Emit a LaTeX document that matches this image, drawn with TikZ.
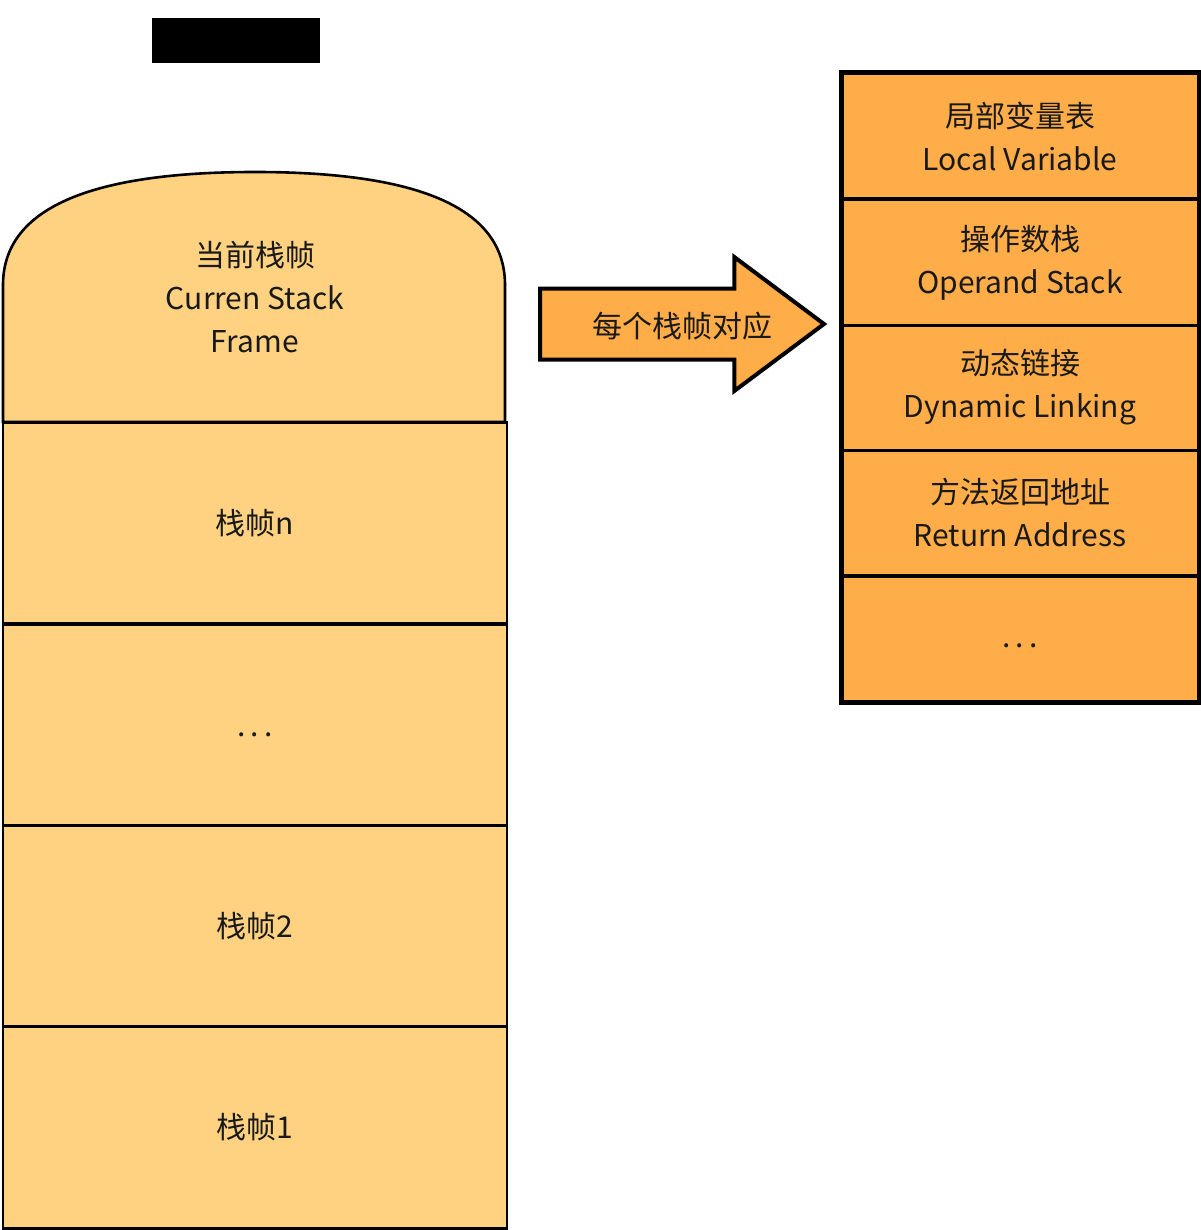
\documentclass[tikz,border=0pt]{standalone}
\usepackage{fontspec}
\setmainfont{Noto Sans CJK SC}
\usetikzlibrary{shapes.arrows}
\definecolor{stackfill}{HTML}{FFD281}
\definecolor{framefill}{HTML}{FFAD48}
\newcommand{\lowdots}[1]{\smash{\raisebox{-#1}{.\,.\,.}}}
\tikzset{
  txt/.style={align=center, font=\fontsize{15pt}{21.5pt}\selectfont, text=black!90},
  stackrow/.style={txt, draw, line width=1.3pt, fill=stackfill, minimum width=252pt, minimum height=100.75pt, inner sep=0pt},
  framerow/.style={txt, draw, line width=1.5pt, fill=framefill, minimum width=178pt, minimum height=62.5pt, inner sep=0pt}
}
\begin{document}
\begin{tikzpicture}[x=0.5pt, y=-0.5pt]
  \useasboundingbox (0,0) rectangle (1200,1230);

  % Title (printed as a solid black block)
  \node[fill=black, text=black, font=\bfseries\fontsize{17pt}{17pt}\selectfont, minimum width=84pt, minimum height=22.5pt, inner sep=0pt] (title) at (236,41) {虚拟机栈};

  % Current frame, domed top
  \draw[line width=1.3pt, fill=stackfill] (3,422) -- (3,285)
    .. controls (3,200) and (110,172) .. (255,172)
    .. controls (400,172) and (505,200) .. (505,285) -- (505,422) -- cycle;
  \node[txt] (cur) at (255,297) {当前栈帧\\Curren Stack\\Frame};

  % Frames below
  \foreach \name/\y/\label in {fn/523/栈帧n, fdots/725/\lowdots{5.5pt}, f2/926.5/栈帧2, f1/1127.5/栈帧1} {
    \node[stackrow] (\name) at (255,\y) {\label};
  }

  % Arrow
  \node[single arrow, draw, line width=2pt, fill=framefill, minimum height=142pt, inner xsep=0pt, inner ysep=16.75pt,
        single arrow head extend=15.75pt, single arrow tip angle=73.5, anchor=tail] (arr) at (538,324) {};
  \node[txt] (arrtxt) at (682,326) {每个栈帧对应};

  % Contents of one frame
  \foreach \name/\y/\label in {lv/136.5/局部变量表\\Local Variable, os/262.5/操作数栈\\Operand Stack, dl/387.5/动态链接\\Dynamic Linking, ra/512.5/方法返回地址\\Return Address, more/638.5/\lowdots{4.5pt}} {
    \node[framerow] (\name) at (1020,\y) {\label};
  }
  \draw[line width=2pt] (lv.north west) rectangle (more.south east);
\end{tikzpicture}
\end{document}
